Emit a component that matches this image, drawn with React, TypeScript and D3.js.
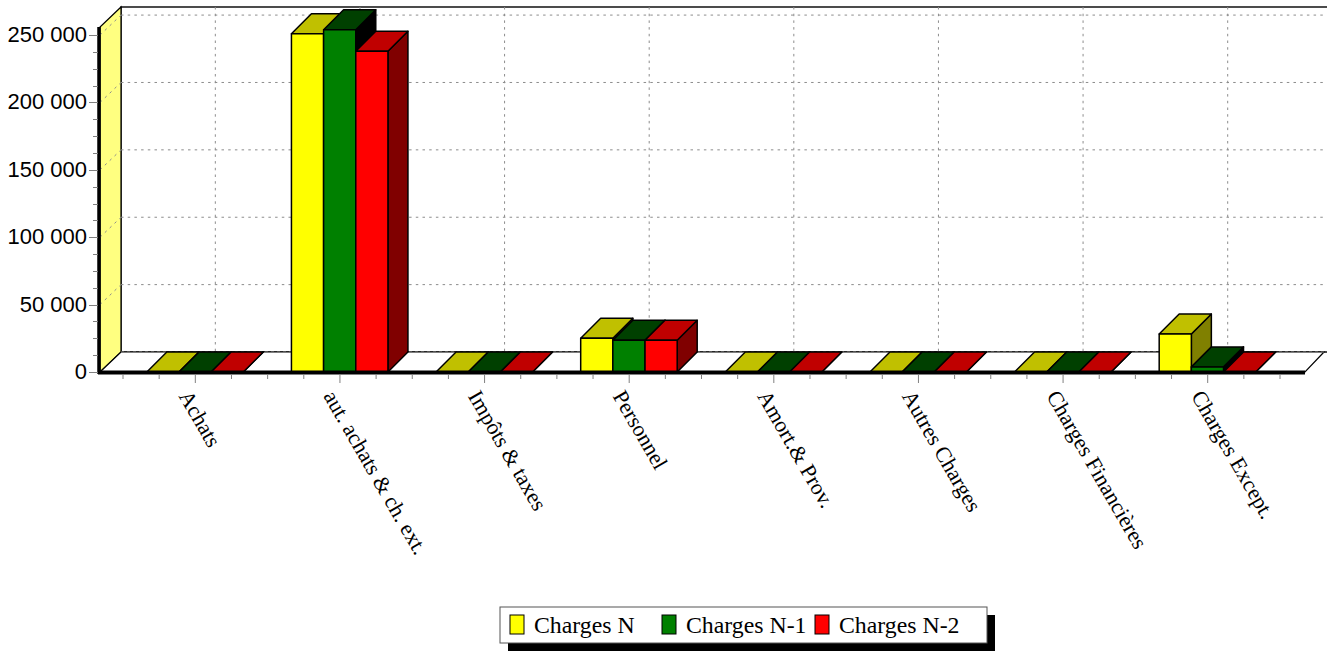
import React from "react";
import * as d3 from "d3";

const categories = ["Achats", "aut. achats & ch. ext.", "Impôts & taxes", "Personnel", "Amort.& Prov.", "Autres Charges", "Charges Financières", "Charges Except."];
const seriesNames = ["Charges N", "Charges N-1", "Charges N-2"];
const chargesN = [0, 251000, 0, 25000, 0, 0, 0, 28200];
const chargesN1 = [0, 254000, 0, 23500, 0, 0, 0, 3800];
const chargesN2 = [0, 238000, 0, 23500, 0, 0, 0, 0];
const seriesValues = [chargesN, chargesN1, chargesN2];
const frontColors = ["#ffff00", "#008000", "#ff0000"];
const topColors = ["#c0c000", "#004000", "#c00000"];
const sideColors = ["#808000", "#000000", "#800000"];
const yMajorTicks = [0, 50000, 100000, 150000, 200000, 250000];
const yMinorStep = 12500;
const yMax = 256000;

const W = 1327;
const H = 651;
const DX = 21;
const DY = 20;
const BAR_DX = 20;
const BAR_DY = 20;
const left = 100;
const right = 1305;
const bottom = 372;
const topY = 27;

const y = d3.scaleLinear().domain([0, yMax]).range([bottom, topY]);
const xBand = d3.scaleBand<string>().domain(categories).range([123, 1280]);
const bandW = xBand.bandwidth();
const barScale = d3.scaleBand<number>().domain([0, 1, 2]).range([bandW / 2 - 48.5, bandW / 2 + 48]);
const fmt = (v: number) => d3.format(",")(v).replace(/,/g, " ");
const pts = (a: [number, number][]) => a.map((p) => p.join(",")).join(" ");
const GRID = "#8c8c8c";
const SERIF = "'Liberation Serif', serif";
const SANS = "'Liberation Sans', sans-serif";
const xMinor = d3.range(0, categories.length * 4 + 1).map((i) => 123 + (i * bandW) / 4);

function Bar({ x0, w, value, s }: { x0: number; w: number; value: number; s: number }) {
  const yt = y(value);
  const x1 = x0 + w;
  return (
    <g stroke="#000" strokeWidth={1.5} strokeLinejoin="round">
      <polygon points={pts([[x1, yt], [x1 + BAR_DX, yt - BAR_DY], [x1 + BAR_DX, bottom - BAR_DY], [x1, bottom]])} fill={sideColors[s]} />
      <polygon points={pts([[x0, yt], [x0 + BAR_DX, yt - BAR_DY], [x1 + BAR_DX, yt - BAR_DY], [x1, yt]])} fill={topColors[s]} />
      {value > 0 && <rect x={x0} y={yt} width={w} height={bottom - yt} fill={frontColors[s]} />}
    </g>
  );
}

export default function App() {
  return (
    <svg width={W} height={H} style={{ position: "fixed", left: 0, top: 0, display: "block", background: "#fff" }}>
      {/* back wall */}
      <rect x={left + DX} y={topY - DY} width={right - left + DX - 2} height={bottom - topY} fill="#fff" stroke="#000" strokeWidth={1.4} />
      {/* left wall */}
      <polygon points={pts([[left, bottom], [left + DX, bottom - DY], [left + DX, topY - DY], [left, topY]])} fill="#ffff80" stroke="#000" strokeWidth={1.2} />
      {/* floor */}
      <polygon points={pts([[left, bottom], [left + DX, bottom - DY], [right + DX - 2, bottom - DY], [right, bottom]])} fill="#fff" stroke="#000" strokeWidth={1.2} />
      <line x1={left + DX} x2={right + DX - 2} y1={bottom - DY} y2={bottom - DY} stroke="#808080" strokeWidth={1} strokeDasharray="3 3" />

      {/* grid on the back wall and left wall */}
      <g stroke={GRID} strokeWidth={1} strokeDasharray="2.5 4.2" fill="none">
        {yMajorTicks.slice(1).map((t) => (
          <g key={t}>
            <line x1={left + DX} x2={right + DX - 2} y1={y(t) - DY} y2={y(t) - DY} />
            <line x1={left} x2={left + DX} y1={y(t)} y2={y(t) - DY} />
          </g>
        ))}
        {categories.map((c) => {
          const gx = (xBand(c) as number) + bandW / 2 + DX - 1;
          return <line key={c} x1={gx} x2={gx} y1={topY - DY} y2={bottom - DY} />;
        })}
      </g>

      {/* bars */}
      {categories.map((c, i) => (
        <g key={c}>
          {seriesValues.map((vals, s) => (
            <Bar key={s} x0={(xBand(c) as number) + (barScale(s) as number)} w={barScale.bandwidth()} value={vals[i]} s={s} />
          ))}
        </g>
      ))}

      {/* axes */}
      <line x1={99} x2={99} y1={topY} y2={bottom + 2} stroke="#000" strokeWidth={3.5} />
      <line x1={98} x2={right} y1={bottom + 0.5} y2={bottom + 0.5} stroke="#000" strokeWidth={4} />
      <g stroke="#808080" strokeWidth={1}>
        {d3.range(0, yMax, yMinorStep).map((t) => (
          <line key={t} x1={t % 50000 === 0 ? 89 : 93} x2={98} y1={Math.round(y(t)) + 0.5} y2={Math.round(y(t)) + 0.5} />
        ))}
        {xMinor.map((t, i) => (
          <line key={i} x1={t} x2={t} y1={374} y2={i % 4 === 2 ? 383 : 379} />
        ))}
      </g>
      <g fontFamily={SANS} fontSize={22} fill="#000" textAnchor="end">
        {yMajorTicks.map((t) => (
          <text key={t} x={87} y={y(t) + 7}>{fmt(t)}</text>
        ))}
      </g>
      <g fontFamily={SERIF} fontSize={22} fill="#000">
        {categories.map((c) => {
          const tx = (xBand(c) as number) + bandW / 2 - 17;
          return <text key={c} transform={`translate(${tx},396) rotate(60)`}>{c}</text>;
        })}
      </g>

      {/* legend */}
      <rect x={508} y={615} width={487} height={36} fill="#000" />
      <rect x={500} y={607} width={487} height={36} fill="#fff" stroke="#555" strokeWidth={1} />
      {seriesNames.map((n, i) => {
        const lx = [510, 662, 815][i];
        return (
          <g key={n}>
            <rect x={lx} y={615} width={14} height={19} fill={frontColors[i]} stroke="#000" strokeWidth={1} />
            <text x={lx + 24} y={633} fontFamily={SERIF} fontSize={23.8} fill="#000">{n}</text>
          </g>
        );
      })}
    </svg>
  );
}
